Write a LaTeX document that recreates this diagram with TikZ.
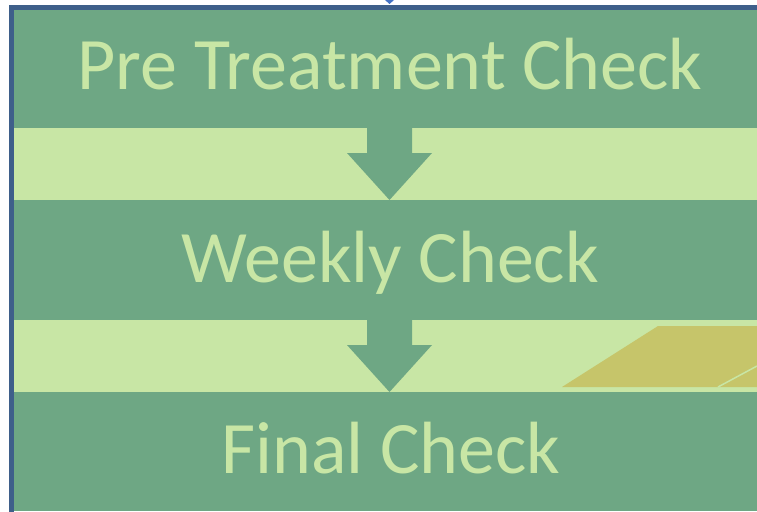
\documentclass[tikz,border=0pt]{standalone}
\usepackage{fontspec}
\setmainfont{Carlito}
\definecolor{bandgreen}{HTML}{6EA784}
\definecolor{lightgreen}{HTML}{C8E6A5}
\definecolor{framblue}{HTML}{3E5F8A}
\definecolor{tipblue}{HTML}{4472C4}
\definecolor{olive}{HTML}{C6C56A}
\tikzset{
  steptext/.style={text=lightgreen, font=\fontsize{74}{80}\selectfont, inner sep=0pt, anchor=base},
  flowarrow/.style={fill=bandgreen, draw=none},
  lightband/.style={fill=lightgreen, draw=none},
}
\begin{document}
\begin{tikzpicture}[x=1pt,y=-1pt]
\useasboundingbox (0,0) rectangle (757,511);
\fill[white] (0,0) rectangle (757,511);
% green background
\fill[bandgreen] (12,8) rectangle (757,511);
% light bands
\path[lightband] (12,128) rectangle (757,200);
\path[lightband] (12,320) rectangle (757,392);
% olive parallelogram
\fill[olive] (562,387) -- (658,326) -- (757,326) -- (757,387) -- cycle;
\draw[lightgreen, line width=1.5pt] (718,387) -- (757,366);
% arrows
\path[flowarrow] (367,127) -- (412,127) -- (412,153) -- (432,153) -- (389.5,200) -- (347,153) -- (367,153) -- cycle;
\path[flowarrow] (367,319) -- (412,319) -- (412,345) -- (432,345) -- (389.5,392) -- (347,345) -- (367,345) -- cycle;
% frame
\draw[framblue, line width=5pt] (11.5,520) -- (11.5,7.5) -- (770,7.5);
\fill[tipblue] (385,0) -- (394,0) -- (389.5,4) -- cycle;
% texts
\node[steptext] (pre) at (390,89) {Pre Treatment Check};
\node[steptext] (weekly) at (390,282) {Weekly Check};
\node[steptext] (final) at (391,473) {Final Check};
\end{tikzpicture}
\end{document}
